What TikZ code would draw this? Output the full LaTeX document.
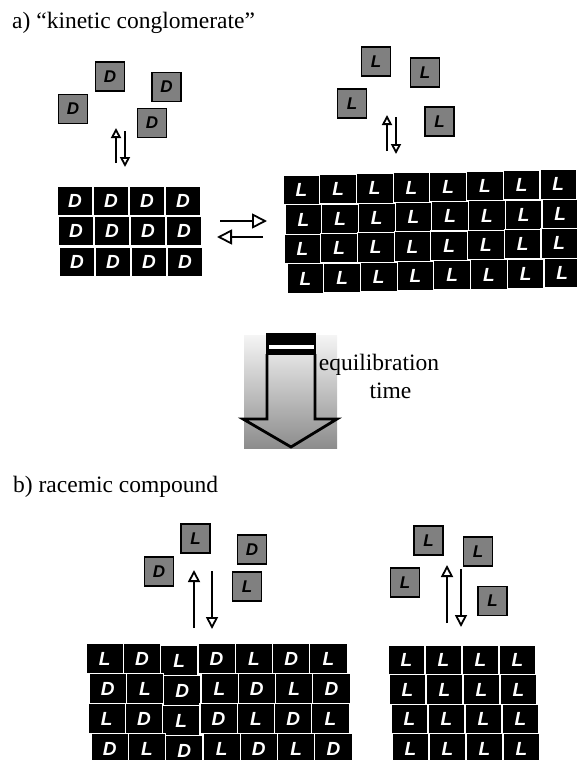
\documentclass[tikz,border=0pt]{standalone}
\usepackage{fontspec}
\setmainfont{Liberation Serif}
\newfontfamily\letterfont{Liberation Sans}
\usepackage{tikz}
\usetikzlibrary{arrows.meta}
\usetikzlibrary{calc}

\begin{document}
\begin{tikzpicture}[x=1pt, y=-1pt,
  monomer/.style={draw=black, line width=1.3pt, fill=black!50, minimum size=29pt, inner sep=0pt,
    font=\letterfont\bfseries\itshape\fontsize{17}{17}\selectfont},
  cell/.style={draw=white, line width=1.2pt, fill=black, text=white, inner sep=0pt,
    font=\letterfont\bfseries\itshape\fontsize{19}{19}\selectfont},
  eq/.style={line width=2.6pt, -{Triangle[open, length=#1, width=#1, line width=1.8pt]}},
  eq/.default=10pt,
  headline/.style={font=\fontsize{23.5}{28}\selectfont, inner sep=0pt}
]
\useasboundingbox (0,0) rectangle (577,760);

\node[headline, anchor=base west] (titleA) at (12,29) {a) “kinetic conglomerate”};

% D monomers
\node[monomer] (dmA) at (73,109) {D};
\node[monomer] (dmB) at (110,76.5) {D};
\node[monomer] (dmC) at (166.5,87) {D};
\node[monomer] (dmD) at (152,123) {D};

% L monomers
\node[monomer] (lmA) at (376,61.5) {L};
\node[monomer] (lmB) at (425,72.5) {L};
\node[monomer] (lmC) at (352,103.5) {L};
\node[monomer] (lmD) at (439.5,121.5) {L};

% D crystal
\foreach \r/\xs/\yc in {1/57/201, 2/58/231, 3/59/262}
  \foreach \c in {1,...,4}
    \node[cell, minimum width=36pt, minimum height=30pt] (dx-\r-\c) at ({\xs+18+36*(\c-1)}, \yc) {D};

% L crystal
\foreach \r/\xs/\yc in {1/283/190, 2/285/219.5, 3/284/249, 4/287/278.5}
  \foreach \c in {1,...,8}
    \node[cell, minimum width=36.7pt, minimum height=29.5pt] (lx-\r-\c) at ({\xs+18.35+36.7*(\c-1)}, {\yc-0.8*(\c-1)}) {L};

\coordinate (dupS) at (116,163);
\coordinate (dupE) at (116,128);
\coordinate (ddnS) at (125,131);
\coordinate (ddnE) at (125,167);
\draw[eq] (dupS) -- (dupE);
\draw[eq] (ddnS) -- (ddnE);

\coordinate (lupS) at (387,151);
\coordinate (lupE) at (387,115);
\coordinate (ldnS) at (396,117);
\coordinate (ldnE) at (396,154);
\draw[eq] (lupS) -- (lupE);
\draw[eq] (ldnS) -- (ldnE);

\coordinate (fwdS) at (220,221);
\coordinate (fwdE) at (267,221);
\coordinate (bwdS) at (263,237);
\coordinate (bwdE) at (217,237);
\draw[eq=15pt] (fwdS) -- (fwdE);
\draw[eq=15pt] (bwdS) -- (bwdE);

% equilibration arrow
\shade[top color=white!96!black, bottom color=black!45] (244,335) rectangle (337,448);
\fill[black] (266,333) rectangle (316,355);
\fill[white] (268.5,344.5) rectangle (313.5,348.5);
\draw[line width=2.8pt, line join=miter] (267,354) -- (267,419) -- (243,419) -- (291,447) -- (337,419) -- (315,419) -- (315,354);
\node[headline, anchor=base] (eqlabel) at (379,370) {equilibration};
\node[headline, anchor=base] (timelabel) at (390.5,398) {time};

\node[headline, anchor=base west] (titleB) at (13,492) {b) racemic compound};

% racemic monomers
\node[monomer] (rmA) at (195.5,538.5) {L};
\node[monomer] (rmB) at (252,549.5) {D};
\node[monomer] (rmC) at (159,571.5) {D};
\node[monomer] (rmD) at (247,586.5) {L};

% L monomers
\node[monomer] (pmA) at (428.5,540.5) {L};
\node[monomer] (pmB) at (478,551.5) {L};
\node[monomer] (pmC) at (405,582.5) {L};
\node[monomer] (pmD) at (492.5,601) {L};

% racemic crystal
\foreach \r/\xs/\yc in {1/86/658.5, 2/89/688.5, 3/88/718.5, 4/91/748.5}
  \foreach \c in {1,...,7}
    \node[cell, minimum width=37.3pt, minimum height=30pt] (rx-\r-\c) at ({\xs+18.65+37.3*(\c-1)}, {\yc+2*(\c==3)}) {\ifodd\numexpr\r+\c\relax D\else L\fi};

% L crystal
\foreach \r/\xs/\yc in {1/388/660, 2/389/689.5, 3/391/719, 4/392/748.5}
  \foreach \c in {1,...,4}
    \node[cell, minimum width=37pt, minimum height=29.5pt] (px-\r-\c) at ({\xs+18.5+37*(\c-1)}, \yc) {L};

\coordinate (rupS) at (194,628);
\coordinate (rupE) at (194,570);
\coordinate (rdnS) at (212,571);
\coordinate (rdnE) at (212,629);
\draw[eq=12pt] (rupS) -- (rupE);
\draw[eq=12pt] (rdnS) -- (rdnE);

\coordinate (pupS) at (447,623);
\coordinate (pupE) at (447,565);
\coordinate (pdnS) at (461,569);
\coordinate (pdnE) at (461,627);
\draw[eq=12pt] (pupS) -- (pupE);
\draw[eq=12pt] (pdnS) -- (pdnE);

\end{tikzpicture}
\end{document}
